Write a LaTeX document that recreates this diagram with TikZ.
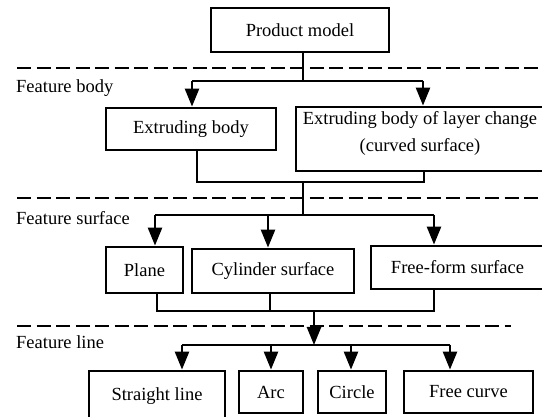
\documentclass[tikz,border=0pt]{standalone}
\usepackage{fontspec}
\setmainfont{Liberation Serif}
\usetikzlibrary{arrows.meta}
\begin{document}
\begin{tikzpicture}[x=1pt,y=-1pt,
  box/.style={draw,line width=2.8pt,inner sep=0pt,align=center,font=\fontsize{18.5}{27}\selectfont},
  conn/.style={line width=2.5pt},
  arr/.style={conn,-{Triangle[width=14pt,length=18pt]}},
  sep/.style={line width=2.8pt,dash pattern=on 14pt off 5.5pt},
  lab/.style={anchor=west,inner sep=0pt,font=\fontsize{18.5}{22}\selectfont}]
\useasboundingbox (0,0) rectangle (542,417);
% boxes
\node[box,minimum width=178pt,minimum height=44pt] (pm) at (300,30) {Product model};
\node[box,minimum width=170pt,minimum height=42pt] (eb) at (191,129) {Extruding body};
\node[box,minimum width=248pt,minimum height=64pt] (el) at (420,139) {Extruding body of layer change\\(curved surface)\\[-12pt]~};
\node[box,minimum width=77pt,minimum height=46pt] (pl) at (144.5,270) {Plane};
\node[box,minimum width=162pt,minimum height=44pt] (cy) at (273,271) {Cylinder surface};
\node[box,minimum width=173pt,minimum height=43pt] (ff) at (457.5,267.5) {Free-form surface};
\node[box,minimum width=136pt,minimum height=50pt] (sl) at (157,396) {Straight line};
\node[box,minimum width=64pt,minimum height=42pt] (ar) at (271,392) {Arc};
\node[box,minimum width=68pt,minimum height=42pt] (ci) at (352,392) {Circle};
\node[box,minimum width=129pt,minimum height=42pt] (fc) at (468.5,392) {Free curve};
% labels
\node[lab] (lb) at (16,88) {Feature body};
\node[lab] (ls) at (16,218) {Feature surface};
\node[lab] (ll) at (16,342) {Feature line};
% dashed separators
\coordinate (d1a) at (17,68); \coordinate (d1b) at (542,68);
\coordinate (d2a) at (17,198); \coordinate (d2b) at (542,198);
\coordinate (d3a) at (17,326); \coordinate (d3b) at (511,326);
\draw[sep] (d1a) -- (d1b);
\draw[sep] (d2a) -- (d2b);
\draw[sep] (d3a) -- (d3b);
% level 1
\coordinate (j1) at (303,81);
\coordinate (b1l) at (192,81);
\coordinate (b1r) at (423,81);
\draw[conn] (pm.south -| j1) -- (j1);
\draw[conn] (b1l) -- (b1r);
\draw[arr] (b1l) -- (b1l |- eb.north);
\draw[arr] (b1r) -- (b1r |- el.north);
% merge 1
\coordinate (m1l) at (197,182);
\coordinate (m1r) at (424,182);
\coordinate (m1c) at (303,182);
\coordinate (j2) at (303,215);
\draw[conn] (m1l |- eb.south) -- (m1l) -- (m1r) -- (m1r |- el.south);
\draw[conn] (m1c) -- (j2);
% level 2
\coordinate (b2l) at (155,215);
\coordinate (b2m) at (268,215);
\coordinate (b2r) at (434,215);
\draw[conn] (b2l) -- (b2r);
\draw[arr] (b2l) -- (b2l |- pl.north);
\draw[arr] (b2m) -- (b2m |- cy.north);
\draw[arr] (b2r) -- (b2r |- ff.north);
% merge 2
\coordinate (m2l) at (157,311);
\coordinate (m2m) at (270,311);
\coordinate (m2r) at (434,311);
\coordinate (m2c) at (314,311);
\coordinate (j3) at (314,345);
\draw[conn] (m2l |- pl.south) -- (m2l) -- (m2r) -- (m2r |- ff.south);
\draw[conn] (m2m |- cy.south) -- (m2m);
\draw[arr] (m2c) -- (j3);
% level 3
\coordinate (b3a) at (182,345);
\coordinate (b3b) at (271,345);
\coordinate (b3c) at (351,345);
\coordinate (b3d) at (450,345);
\draw[conn] (b3a) -- (b3d);
\draw[arr] (b3a) -- (b3a |- sl.north);
\draw[arr] (b3b) -- (b3b |- ar.north);
\draw[arr] (b3c) -- (b3c |- ci.north);
\draw[arr] (b3d) -- (b3d |- fc.north);
\end{tikzpicture}
\end{document}
